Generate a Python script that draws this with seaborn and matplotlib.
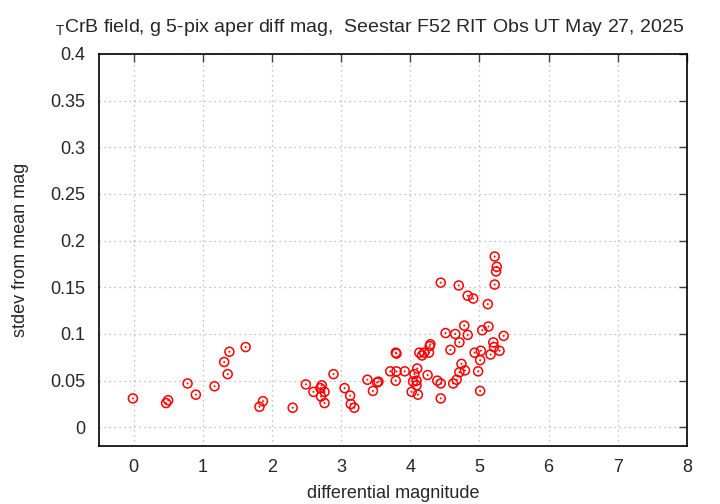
import pandas as pd
import matplotlib
matplotlib.use('Agg')
import matplotlib.pyplot as plt
import seaborn as sns

# differential magnitude and stdev
diff_mag = [
    -0.01, 0.47, 0.50, 0.78, 0.90, 1.17, 1.31, 1.36, 1.385, 1.62, 1.82, 1.87,
    2.30, 2.49, 2.60, 2.70, 2.72, 2.76, 2.71, 2.76, 2.89, 3.05, 3.13, 3.14,
    3.19, 3.38, 3.46, 3.52, 3.54, 3.71, 3.80, 3.92, 3.79, 3.80, 3.79, 4.10,
    4.06, 4.09, 4.04, 4.09, 4.02, 4.11, 4.25, 4.13, 4.17, 4.20, 4.27, 4.29,
    4.28, 4.39, 4.44, 5.22, 5.25, 5.24, 5.22, 4.44, 4.70, 4.83, 4.91, 5.12,
    4.78, 4.51, 4.65, 4.83, 4.71, 5.04, 5.13, 5.35, 4.58, 5.20, 5.21, 5.29,
    5.16, 5.02, 4.93, 5.01, 4.74, 4.71, 4.79, 4.98, 4.44, 4.62, 4.67, 5.01,
]
stdev = [
    0.031, 0.026, 0.029, 0.047, 0.035, 0.044, 0.070, 0.057, 0.081, 0.086, 0.022, 0.028,
    0.021, 0.046, 0.038, 0.042, 0.045, 0.038, 0.033, 0.026, 0.057, 0.042, 0.034, 0.025,
    0.021, 0.051, 0.039, 0.048, 0.049, 0.060, 0.060, 0.060, 0.080, 0.079, 0.050, 0.063,
    0.057, 0.050, 0.049, 0.045, 0.038, 0.035, 0.056, 0.080, 0.077, 0.080, 0.080, 0.089,
    0.087, 0.050, 0.031, 0.183, 0.172, 0.167, 0.153, 0.155, 0.152, 0.141, 0.138, 0.132,
    0.109, 0.101, 0.100, 0.099, 0.091, 0.104, 0.108, 0.098, 0.083, 0.091, 0.086, 0.082,
    0.078, 0.082, 0.080, 0.072, 0.068, 0.059, 0.061, 0.060, 0.047, 0.047, 0.051, 0.039,
]

df = pd.DataFrame({'mag': diff_mag, 'sd': stdev})

sns.set_style('white')
plt.rcParams['font.family'] = ['Liberation Sans', 'DejaVu Sans']
plt.rcParams['mathtext.fontset'] = 'custom'
plt.rcParams['mathtext.rm'] = 'Liberation Sans'

fig = plt.figure(figsize=(7.2, 5.04), dpi=100)
ax = fig.add_axes([99 / 720, 58 / 504, 588 / 720, 392 / 504])

# open red circles with a dot in the middle, like gnuplot pt 6
sns.scatterplot(data=df, x='mag', y='sd', ax=ax, marker='o', s=42,
                facecolor='none', edgecolor='red', linewidth=1.1, legend=False, zorder=3)
sns.scatterplot(data=df, x='mag', y='sd', ax=ax, marker='o', s=2,
                color='red', edgecolor='none', legend=False, zorder=4)

ax.set_xlim(-0.5, 8)
ax.set_ylim(-0.02, 0.4)
ax.set_xticks(range(0, 9))
ax.set_yticks([0, 0.05, 0.1, 0.15, 0.2, 0.25, 0.3, 0.35, 0.4])
ax.set_yticklabels(['0', '0.05', '0.1', '0.15', '0.2', '0.25', '0.3', '0.35', '0.4'])
ax.grid(True, color='#b0b0b0', linestyle=(0, (1, 3)), linewidth=0.9)
ax.tick_params(direction='in', length=6, width=1, top=True, right=True,
               labelsize=13, color='#404040')
ax.tick_params(axis='y', pad=10)
ax.tick_params(axis='x', pad=9)
for sp in ax.spines.values():
    sp.set_color('black')
    sp.set_linewidth(1.2)

ax.set_xlabel('differential magnitude', fontsize=13, labelpad=7)
ax.set_ylabel('stdev from mean mag', fontsize=13, labelpad=15)
fig.text(370 / 720, 1 - 28 / 504,
         r'$_{\mathrm{T}}$CrB field, g 5-pix aper diff mag,  Seestar F52 RIT Obs UT May 27, 2025',
         fontsize=14, ha='center', va='center')

fig.savefig('out.png', dpi=100)
